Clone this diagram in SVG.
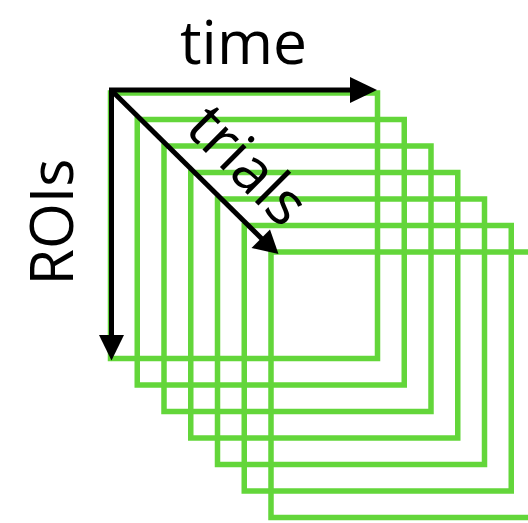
<svg xmlns="http://www.w3.org/2000/svg" width="528" height="523" viewBox="0 0 528 523">
  <style>
    .sq { fill: none; stroke: #63d63a; stroke-width: 5.5; }
    .ax { stroke: #000; stroke-width: 5; fill: none; }
    .hd { fill: #000; stroke: none; }
    .lbl { font-family: "Open Sans", "Liberation Sans", sans-serif; font-size: 61px; fill: #000; }
  </style>
  <rect width="528" height="523" fill="#fff"/>
  <g id="stack">
    <rect class="sq" x="110.5" y="93" width="267" height="265.5"/>
    <rect class="sq" x="137.25" y="119.5" width="267" height="265.5"/>
    <rect class="sq" x="164" y="146" width="267" height="265.5"/>
    <rect class="sq" x="190.75" y="172.5" width="267" height="265.5"/>
    <rect class="sq" x="217.5" y="199" width="267" height="265.5"/>
    <rect class="sq" x="244.25" y="225.5" width="267" height="265.5"/>
    <rect class="sq" x="271" y="252" width="267" height="265.5"/>
  </g>
  <g id="connectors">
    <line class="ax" x1="109" y1="90" x2="352" y2="90"/>
    <polygon class="hd" points="350,77 377,90 350,103"/>
    <line class="ax" x1="111.5" y1="88" x2="111.5" y2="337"/>
    <polygon class="hd" points="99,335 124,335 111.5,360.5"/>
    <line class="ax" x1="111" y1="90" x2="262" y2="239"/>
    <polygon class="hd" points="251.5,248 270,229.5 278.5,254"/>
  </g>
  <g id="label-time"><text class="lbl" x="243.5" y="64.3" text-anchor="middle" textLength="127" lengthAdjust="spacingAndGlyphs">time</text></g>
  <g id="label-rois"><text class="lbl" transform="translate(73,222) rotate(-90)" text-anchor="middle" textLength="127" lengthAdjust="spacingAndGlyphs">ROIs</text></g>
  <g id="label-trials"><text class="lbl" transform="translate(233,180) rotate(45)" text-anchor="middle">trials</text></g>
</svg>
